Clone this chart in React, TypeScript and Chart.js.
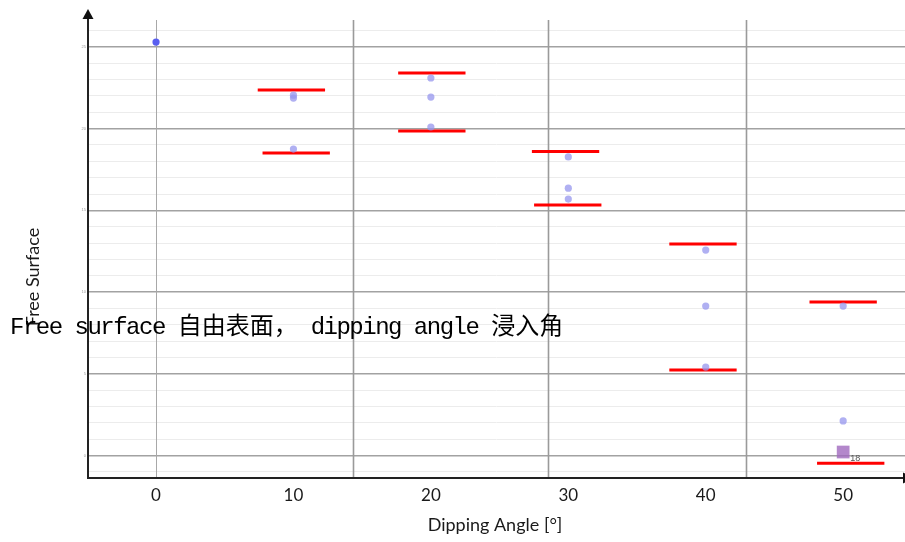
import { useEffect, useRef } from 'react';
import { Chart, registerables } from 'chart.js';

Chart.register(...registerables);

// Dipping angle categories shown on the horizontal axis (degrees)
const angleTicks = [0, 10, 20, 30, 40, 50];

// Measured free-surface readings at each dipping angle
const measuredAngle = [0, 10, 10, 10, 20, 20, 20, 30, 30, 30, 40, 40, 40, 50, 50];
const measuredSurface = [25.3, 22.05, 21.87, 18.75, 23.1, 21.93, 20.1, 18.27, 16.36, 15.69, 12.57, 9.14, 5.41, 9.14, 2.11];

// Upper and lower limit bars per angle (centre angle and level)
const upperCenter = [9.85, 20.07, 29.8, 39.8, 50.0];
const upperLevel = [22.36, 23.4, 18.6, 12.94, 9.39];
const lowerCenter = [10.2, 20.07, 29.96, 39.8, 50.55];
const lowerLevel = [18.51, 19.85, 15.33, 5.23, -0.47];

// Highlighted sample
const highlightAngle = [50];
const highlightSurface = [0.21];
const highlightLabel = ['18'];

// Vertical guide lines (angle values)
const guideAngles = [0, 14.33, 28.51, 42.91];

const BAR_HALF = 2.45;

function limitSegments(centers: number[], levels: number[]) {
  const pts: { x: number; y: number | null }[] = [];
  centers.forEach((c, i) => {
    pts.push({ x: c - BAR_HALF, y: levels[i] });
    pts.push({ x: c + BAR_HALF, y: levels[i] });
    pts.push({ x: c, y: null });
  });
  return pts;
}

const decorPlugin = {
  id: 'decor',
  beforeDatasetsDraw(chart: any) {
    const { ctx, chartArea, scales } = chart;
    ctx.save();
    guideAngles.forEach((a, i) => {
      const x = Math.round(scales.x.getPixelForValue(a)) + 0.5;
      ctx.strokeStyle = i === 0 ? '#a8a8a8' : '#9a9a9a';
      ctx.lineWidth = i === 0 ? 1 : 1.6;
      ctx.beginPath();
      ctx.moveTo(x, chartArea.top);
      ctx.lineTo(x, chartArea.bottom);
      ctx.stroke();
    });
    ctx.restore();
  },
  afterDatasetsDraw(chart: any) {
    const { ctx, chartArea, scales } = chart;
    ctx.save();
    // highlight label
    ctx.fillStyle = '#555';
    ctx.font = '9px "Liberation Sans", Arial, sans-serif';
    ctx.textAlign = 'left';
    ctx.textBaseline = 'middle';
    highlightAngle.forEach((a, i) => {
      const px = scales.x.getPixelForValue(a);
      const py = scales.y.getPixelForValue(highlightSurface[i]);
      ctx.fillText(highlightLabel[i], px + 7, py + 6);
    });

    // axes with arrow heads
    ctx.strokeStyle = '#222';
    ctx.fillStyle = '#111';
    ctx.lineWidth = 2;
    const x0 = chartArea.left;
    const y0 = chartArea.bottom;
    ctx.beginPath();
    ctx.moveTo(x0, y0);
    ctx.lineTo(x0, chartArea.top - 4);
    ctx.moveTo(x0 - 1, y0);
    ctx.lineTo(chartArea.right, y0);
    ctx.stroke();
    ctx.beginPath();
    ctx.moveTo(x0, chartArea.top - 11);
    ctx.lineTo(x0 - 5.5, chartArea.top - 1);
    ctx.lineTo(x0 + 5.5, chartArea.top - 1);
    ctx.closePath();
    ctx.fill();
    ctx.beginPath();
    ctx.moveTo(chartArea.right + 8, y0);
    ctx.lineTo(chartArea.right - 2, y0 - 5.5);
    ctx.lineTo(chartArea.right - 2, y0 + 5.5);
    ctx.closePath();
    ctx.fill();

    // axis titles
    ctx.fillStyle = '#1a1a1a';
    ctx.font = '18px Lato, "Open Sans", sans-serif';
    ctx.textAlign = 'center';
    ctx.textBaseline = 'middle';
    ctx.fillText('Dipping Angle [°]', 495, 525);
    ctx.translate(33, 277);
    ctx.rotate(-Math.PI / 2);
    ctx.fillText('Free Surface', 0, 0);
    ctx.restore();
  },
};

export default function App() {
  const canvasRef = useRef<HTMLCanvasElement | null>(null);

  useEffect(() => {
    if (!canvasRef.current) return;
    const chart = new Chart(canvasRef.current, {
      type: 'scatter',
      data: {
        datasets: [
          {
            label: 'Measured',
            data: measuredAngle.map((a, i) => ({ x: a, y: measuredSurface[i] })),
            pointRadius: 3.6,
            pointBorderWidth: 0,
            pointBackgroundColor: (c: any) =>
              c.raw && c.raw.x === 0 ? '#5a5ff0' : 'rgba(150,150,238,0.75)',
            order: 0,
          },
          {
            label: 'Highlight',
            data: highlightAngle.map((a, i) => ({ x: a, y: highlightSurface[i] })),
            pointStyle: 'rect',
            pointRadius: 9,
            pointBorderWidth: 0,
            pointBackgroundColor: 'rgba(160,105,190,0.8)',
            order: 0,
          },
          {
            label: 'Upper limit',
            data: limitSegments(upperCenter, upperLevel),
            showLine: true,
            spanGaps: false,
            borderColor: '#ff0000',
            borderWidth: 3,
            pointRadius: 0,
            order: 1,
          },
          {
            label: 'Lower limit',
            data: limitSegments(lowerCenter, lowerLevel),
            showLine: true,
            spanGaps: false,
            borderColor: '#ff0000',
            borderWidth: 3,
            pointRadius: 0,
            order: 1,
          },
        ],
      },
      options: {
        responsive: false,
        animation: false,
        layout: { autoPadding: false, padding: { top: 20, left: 0, right: 0, bottom: 0 } },
        plugins: { legend: { display: false }, tooltip: { enabled: false } },
        scales: {
          x: {
            type: 'linear',
            min: -4.95,
            max: 54.5,
            afterBuildTicks: (s: any) => {
              s.ticks = angleTicks.map((v) => ({ value: v }));
            },
            afterFit: (s: any) => {
              s.height = 64;
            },
            grid: { display: false, drawTicks: false },
            border: { display: false },
            ticks: {
              padding: 7,
              color: '#1a1a1a',
              font: { family: 'Lato, "Open Sans", sans-serif', size: 17 },
              maxRotation: 0,
            },
          },
          y: {
            type: 'linear',
            min: -1.38,
            max: 26.65,
            afterFit: (s: any) => {
              s.width = 88;
            },
            border: { display: false },
            grid: {
              drawTicks: false,
              color: (c: any) => (c.tick && c.tick.value % 5 === 0 ? '#a2a2a2' : '#ececec'),
              lineWidth: (c: any) => (c.tick && c.tick.value % 5 === 0 ? 1.5 : 1),
            },
            ticks: {
              stepSize: 1,
              includeBounds: false,
              padding: 2,
              color: '#999',
              font: { size: 4 },
              callback: (v: any) => (Number(v) % 5 === 0 ? String(v) : ''),
            },
          },
        },
      },
      plugins: [decorPlugin],
    } as any);
    return () => chart.destroy();
  }, []);

  const latin: React.CSSProperties = {
    fontFamily: '"Liberation Mono", "DejaVu Sans Mono", monospace',
    fontSize: 24,
    letterSpacing: -1.5,
  };
  const cjk: React.CSSProperties = {
    fontFamily: '"Noto Sans CJK SC", sans-serif',
    fontSize: 24,
  };

  return (
    <div style={{ position: 'fixed', left: 0, top: 0, width: 905, height: 542, background: '#fff' }}>
      <canvas ref={canvasRef} width={905} height={542} style={{ display: 'block' }} />
      <div
        style={{
          position: 'absolute',
          left: 10,
          top: 309,
          lineHeight: '30px',
          whiteSpace: 'pre',
          color: '#000',
        }}
      >
        <span style={latin}>Free surface </span>
        <span style={cjk}>自由表面，</span>
        <span style={latin}> dipping angle </span>
        <span style={cjk}>浸入角</span>
      </div>
    </div>
  );
}
